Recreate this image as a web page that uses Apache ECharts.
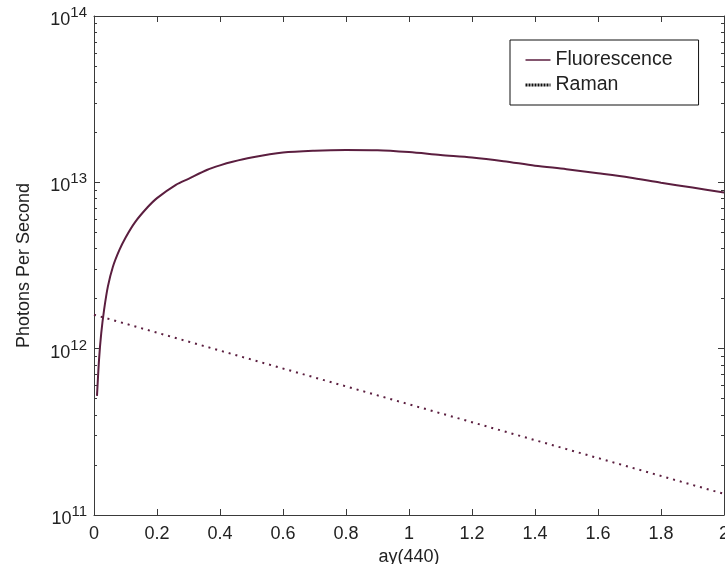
<!DOCTYPE html>
<html>
<head>
<meta charset="utf-8">
<script src="https://cdn.jsdelivr.net/npm/echarts@6/dist/echarts.min.js"></script>
<style>html,body{margin:0;padding:0;background:#fff}#c{width:725px;height:564px}</style>
</head>
<body>
<div id="c"></div>
<script>
// ---- data ----
var fluorX = [0.0095,0.016,0.023,0.032,0.044,0.06,0.08,0.1,0.13,0.17,0.2,0.26,0.3,0.36,0.4,0.44,0.5,0.6,0.7,0.8,0.9,1.0,1.1,1.2,1.3,1.4,1.5,1.6,1.7,1.8,1.9,2.0];
var fluorY = [5.2e11,8.6e11,1.24e12,1.71e12,2.36e12,3.11e12,3.9e12,4.65e12,5.75e12,7.08e12,8.04e12,9.66e12,1.05e13,1.19e13,1.265e13,1.33e13,1.41e13,1.51e13,1.55e13,1.565e13,1.56e13,1.52e13,1.46e13,1.41e13,1.34e13,1.26e13,1.2e13,1.135e13,1.07e13,9.95e12,9.3e12,8.7e12];
var ramanX = [0,0.5,1.0,1.5,2.0];
var ramanY = [1.6e12,8.6e11,4.63e11,2.49e11,1.34e11];
var xTicks = [0,0.2,0.4,0.6,0.8,1,1.2,1.4,1.6,1.8,2];
var yMajor = [1e11,1e12,1e13,1e14];
var yMinor = [2e11,3e11,4e11,5e11,6e11,7e11,8e11,9e11,
              2e12,3e12,4e12,5e12,6e12,7e12,8e12,9e12,
              2e13,3e13,4e13,5e13,6e13,7e13,8e13,9e13];

var color = '#5b1e3f';
var axisColor = '#3a3a3a';
var font = 'Liberation Sans, Arial, Helvetica, sans-serif';

function zip(a,b){ return a.map(function(v,i){ return [v,b[i]]; }); }

var chart = echarts.init(document.getElementById('c'), null, {renderer:'canvas'});

function yAx(pos, major, showLabel) {
  return {
    type:'log', logBase:10, min:1e11, max:1e14, position:pos,
    axisLine:{show:major, lineStyle:{color:axisColor, width:1}},
    axisTick:{show:true, inside:true, length: major?6:3, customValues: major?yMajor:yMinor, lineStyle:{color:axisColor}},
    axisLabel:{show:showLabel, margin:7, customValues:yMajor,
      formatter:function(v){ var e=Math.round(Math.log10(v)); return '{b|10}{s|'+e+'}'; },
      rich:{ b:{fontSize:18, color:'#222', fontFamily:font, padding:[8,0,0,0]}, s:{fontSize:15, color:'#222', fontFamily:font, padding:[0,0,6,0]} } },
    splitLine:{show:false},
    name: (pos==='left' && major) ? 'Photons Per Second' : '',
    nameLocation:'middle', nameGap:61,
    nameTextStyle:{fontSize:18, color:'#222', fontFamily:font}
  };
}

chart.setOption({
  animation:false,
  backgroundColor:'#fff',
  grid:{left:94, right:1, top:16, bottom:49, outerBoundsMode:'none', containLabel:false},
  legend:{
    left:510, top:40, orient:'vertical',
    padding:[10,26,10,14], itemGap:5, itemWidth:25, itemHeight:18,
    borderColor:'#111', borderWidth:1, borderRadius:0, backgroundColor:'#fff',
    textStyle:{fontSize:19.5, color:'#222', fontFamily:font},
    itemStyle:{color:'rgba(0,0,0,0)', borderWidth:0, opacity:0},
    data:[
      {name:'Fluorescence', lineStyle:{color:color, width:1.5}},
      {name:'Raman', lineStyle:{color:'#111', width:3, type:[2,1]}}
    ]
  },
  xAxis:[
    {type:'value', min:0, max:2, interval:0.2, position:'bottom',
     axisLine:{lineStyle:{color:axisColor}}, axisTick:{inside:true, length:6, lineStyle:{color:axisColor}},
     axisLabel:{fontSize:18, color:'#222', fontFamily:font, margin:10, customValues:xTicks,
       formatter:function(v){ return String(Math.round(v*10)/10); }},
     splitLine:{show:false},
     name:'ay(440)', nameLocation:'middle', nameGap:31,
     nameTextStyle:{fontSize:18, color:'#222', fontFamily:font}},
    {type:'value', min:0, max:2, interval:0.2, position:'top',
     axisLine:{lineStyle:{color:axisColor}}, axisTick:{inside:true, length:6, lineStyle:{color:axisColor}},
     axisLabel:{show:false}, splitLine:{show:false}}
  ],
  yAxis:[
    yAx('left', true, true),
    yAx('left', false, false),
    yAx('right', true, false),
    yAx('right', false, false)
  ],
  series:[
    {name:'Fluorescence', type:'line', xAxisIndex:0, yAxisIndex:0, data:zip(fluorX,fluorY),
     symbol:'none', smooth:0.3, lineStyle:{color:color, width:2}, itemStyle:{color:color}},
    {name:'Raman', type:'line', xAxisIndex:0, yAxisIndex:0, data:zip(ramanX,ramanY),
     symbol:'none', lineStyle:{color:color, width:2, type:[2,5]}, itemStyle:{color:color}}
  ]
});
</script>
</body>
</html>
